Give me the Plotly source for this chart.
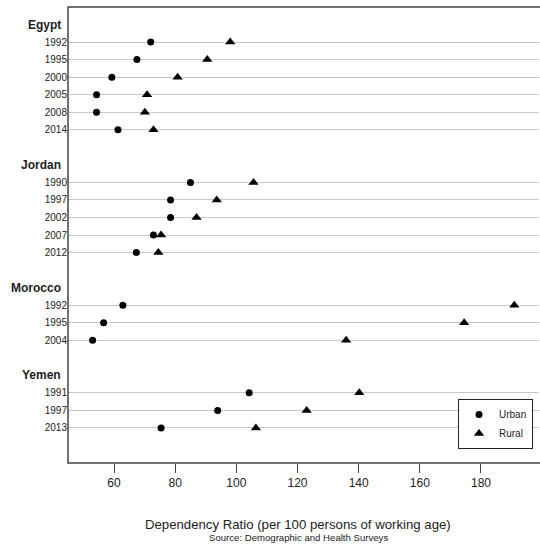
import plotly.graph_objects as go

# Survey groups in display order: country heading, then survey years
countries = ["Egypt", "Jordan", "Morocco", "Yemen"]
egypt_years = ["1992", "1995", "2000", "2005", "2008", "2014"]
jordan_years = ["1990", "1997", "2002", "2007", "2012"]
morocco_years = ["1992", "1995", "2004"]
yemen_years = ["1991", "1997", "2013"]

# Dependency ratios (per 100 persons of working age)
egypt_urban = [72.0, 67.5, 59.3, 54.3, 54.3, 61.3]
egypt_rural = [98.0, 90.5, 80.8, 70.8, 70.1, 72.9]
jordan_urban = [85.0, 78.5, 78.5, 72.9, 67.3]
jordan_rural = [105.6, 93.6, 87.0, 75.4, 74.5]
morocco_urban = [62.9, 56.6, 53.0]
morocco_rural = [190.9, 174.5, 135.9]
yemen_urban = [104.2, 93.9, 75.4]
yemen_rural = [140.2, 123.0, 106.4]

x_ticks = [60, 80, 100, 120, 140, 160, 180]

groups = [
    (countries[0], egypt_years, egypt_urban, egypt_rural),
    (countries[1], jordan_years, jordan_urban, jordan_rural),
    (countries[2], morocco_years, morocco_urban, morocco_rural),
    (countries[3], yemen_years, yemen_urban, yemen_rural),
]

# Row layout: heading row, one row per survey, one blank row between groups
rows, labels, urban, rural, heading_rows = [], [], [], [], []
r = 1
for name, years, u, ru in groups:
    heading_rows.append((name, r))
    r += 1
    for yr, uv, rv in zip(years, u, ru):
        rows.append(r)
        labels.append(yr)
        urban.append(uv)
        rural.append(rv)
        r += 1
    r += 1
n_rows = r

FONT = "Liberation Sans, Arial, sans-serif"
INK = "#222222"
FRAME = "#444444"

# Plot area spans 68..539 px horizontally
PLOT_W = 471

fig = go.Figure()
fig.add_trace(go.Scatter(
    x=urban, y=rows, mode="markers", name="Urban",
    marker=dict(symbol="circle", size=7, color="black"),
))
fig.add_trace(go.Scatter(
    x=rural, y=rows, mode="markers", name="Rural",
    marker=dict(symbol="triangle-up", size=9, color="black"),
))

annotations = []
for name, hr in heading_rows:
    annotations.append(dict(
        x=0, xref="paper", y=hr, yref="y", text="<b>" + name + "</b>",
        showarrow=False, xanchor="right", yanchor="middle", xshift=-5,
        font=dict(family=FONT, size=12, color=INK),
    ))

annotations.append(dict(
    x=(298 - 68) / PLOT_W, xref="paper", y=-0.134, yref="paper",
    text="Dependency Ratio (per 100 persons of working age)",
    showarrow=False, xanchor="center", yanchor="middle",
    font=dict(family=FONT, size=13.2, color=INK),
))
annotations.append(dict(
    x=(298 - 68) / PLOT_W, xref="paper", y=-0.164, yref="paper",
    text="Source: Demographic and Health Surveys",
    showarrow=False, xanchor="center", yanchor="middle",
    font=dict(family=FONT, size=9.6, color=INK),
))

# Open frame: left, top and bottom edges, continuing to the page edge
shapes = [dict(
    type="path", xref="paper", yref="paper",
    path="M 1.01,1 L 0,1 L 0,0 L 1.01,0",
    line=dict(color=FRAME, width=1.5),
)]

fig.update_layout(
    width=540, height=552,
    margin=dict(l=68, r=1, t=7, b=89, autoexpand=False),
    paper_bgcolor="white", plot_bgcolor="white",
    font=dict(family=FONT, color=INK),
    showlegend=True,
    legend=dict(
        x=(533 - 68) / PLOT_W, y=0.1405, xanchor="right", yanchor="top",
        bordercolor="#222222", borderwidth=1, bgcolor="white",
        font=dict(family=FONT, size=10, color=INK),
        itemwidth=30, tracegroupgap=0,
    ),
    annotations=annotations,
    shapes=shapes,
)
fig.update_xaxes(
    range=[44.96, 198.97], tickvals=x_ticks,
    showgrid=False, zeroline=False, showline=False,
    ticks="outside", ticklen=9, tickwidth=1.2, tickcolor=FRAME,
    tickfont=dict(family=FONT, size=12, color=INK),
)
fig.update_yaxes(
    range=[n_rows, 0], tickvals=rows, ticktext=labels,
    showgrid=True, gridcolor="#c8c8c8", gridwidth=1.3,
    zeroline=False, showline=False, ticks="",
    tickfont=dict(family=FONT, size=10, color=INK),
)

fig.write_html("out.html")
